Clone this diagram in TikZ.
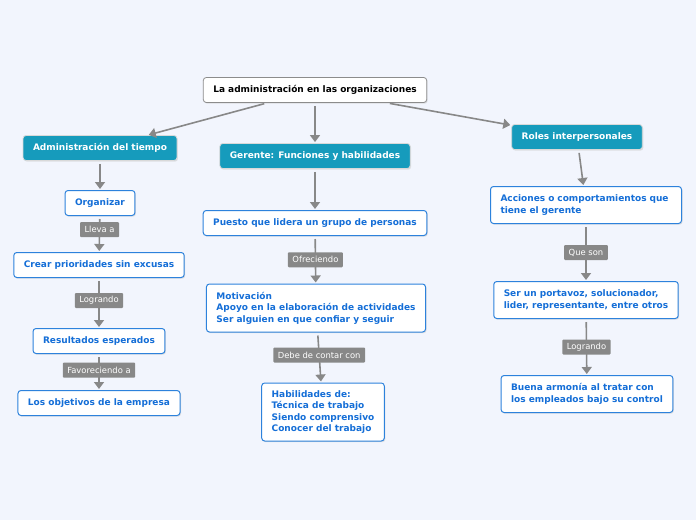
\documentclass[tikz,border=0pt]{standalone}
\usepackage{fontspec}
\setmainfont{DejaVu Sans}
\usepackage{xcolor}
\usepackage{tikz}
\usetikzlibrary{shapes,arrows.meta,positioning,calc,shadows}
\definecolor{pagebg}{RGB}{242, 245, 253}
\definecolor{topicteal}{RGB}{22, 155, 188}
\definecolor{itemblue}{RGB}{20, 110, 215}
\definecolor{itemborder}{RGB}{45, 130, 220}
\definecolor{linkgray}{RGB}{136, 136, 136}

\tikzset{
    boxbase/.style={rectangle,rounded corners=3pt,inner xsep=10pt,minimum height=25pt,
        font=\fontsize{9}{11.4}\selectfont\bfseries,
        drop shadow={shadow xshift=1pt,shadow yshift=-1.2pt,fill=black!22}},
    rootbox/.style={boxbase,draw=black!45,line width=0.8pt,fill=white,text=black},
    topicbox/.style={boxbase,draw=white!85!black,line width=0.8pt,fill=topicteal,text=white},
    itembox/.style={boxbase,draw=itemborder,line width=1pt,fill=white,text=itemblue,align=left},
    linklabel/.style={rectangle,rounded corners=1pt,fill=linkgray,text=white,inner xsep=4.5pt,
        minimum height=15pt,font=\fontsize{8.4}{10}\selectfont},
    conn/.style={draw=linkgray,line width=1.6pt,-{Triangle[length=7pt,width=10pt]},
        shorten <=3pt,shorten >=1pt}
}

\begin{document}
\begin{tikzpicture}[x=1pt,y=-1pt]
    \fill[pagebg] (0,0) rectangle (696,520);
    \useasboundingbox (0,0) rectangle (696,520);

    % central idea and main topics
    \node[rootbox] (root) at (315,90) {La administración en las organizaciones};
    \node[topicbox] (tiempo) at (100,148) {Administración del tiempo};
    \node[topicbox] (gerente) at (315,156) {Gerente: Funciones y habilidades};
    \node[topicbox] (roles) at (577,137) {Roles interpersonales};

    % left branch
    \node[itembox] (organizar) at (100,203) {Organizar};
    \node[itembox] (prioridades) at (99,265) {Crear prioridades sin excusas};
    \node[itembox] (resultados) at (99,341) {Resultados esperados};
    \node[itembox] (objetivos) at (99,403) {Los objetivos de la empresa};

    % middle branch
    \node[itembox] (puesto) at (315,223) {Puesto que lidera un grupo de personas};
    \node[itembox,minimum height=48pt] (motivacion) at (316,308)
        {Motivación\\Apoyo en la elaboración de actividades\\Ser alguien en que confiar y seguir};
    \node[itembox,minimum height=58pt] (habilidades) at (323,412)
        {Habilidades de:\\Técnica de trabajo\\Siendo comprensivo\\Conocer del trabajo};

    % right branch
    \node[itembox,minimum height=37pt,text width=171pt] (acciones) at (586,205)
        {Acciones o comportamientos que tiene el gerente};
    \node[itembox,minimum height=37pt] (portavoz) at (586,300)
        {Ser un portavoz, solucionador,\\lider, representante, entre otros};
    \node[itembox,minimum height=37pt] (armonia) at (587,394)
        {Buena armonía al tratar con\\los empleados bajo su control};

    % connectors
    \draw[conn] (root) -- (tiempo);
    \draw[conn] (root) -- (gerente);
    \draw[conn] (root) -- (roles);
    \draw[conn] (tiempo) -- (organizar);
    \draw[conn] (gerente) -- (puesto);
    \draw[conn] (roles) -- (acciones);

    \draw[conn] (organizar) -- (prioridades) node[linklabel,pos=0.38] (lleva) {Lleva a};
    \draw[conn] (prioridades) -- (resultados) node[linklabel,pos=0.45] (logrando) {Logrando};
    \draw[conn] (resultados) -- (objetivos) node[linklabel,pos=0.45] (favoreciendo) {Favoreciendo a};
    \draw[conn] (puesto) -- (motivacion) node[linklabel,pos=0.5] (ofreciendo) {Ofreciendo};
    \draw[conn] (motivacion) -- (habilidades) node[linklabel,pos=0.45] (debe) {Debe de contar con};
    \draw[conn] (acciones) -- (portavoz) node[linklabel,pos=0.5] (queson) {Que son};
    \draw[conn] (portavoz) -- (armonia) node[linklabel,pos=0.5] (logrando2) {Logrando};
\end{tikzpicture}
\end{document}
